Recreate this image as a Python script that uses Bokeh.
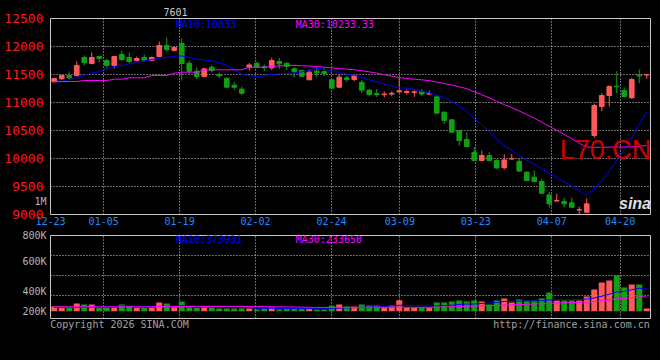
from bokeh.plotting import figure
from bokeh.models import Range1d, FixedTicker, Label, ColumnDataSource, LinearAxis
from bokeh.layouts import column
from bokeh.embed import file_html
from bokeh.resources import INLINE

# ---------------- data ----------------
dates = ["12-23", "12-24", "12-25", "12-26", "12-29", "12-30", "12-31",
         "01-05", "01-06", "01-07", "01-08", "01-09", "01-12", "01-13", "01-14", "01-15", "01-16",
         "01-19", "01-20", "01-21", "01-22", "01-23", "01-26", "01-27", "01-28", "01-29", "01-30",
         "02-02", "02-03", "02-04", "02-05", "02-06", "02-09", "02-10", "02-11", "02-12", "02-13",
         "02-24", "02-25", "02-26", "02-27",
         "03-02", "03-03", "03-04", "03-05", "03-06", "03-09", "03-10", "03-11", "03-12", "03-13",
         "03-16", "03-17", "03-18", "03-19", "03-20", "03-23", "03-24", "03-25", "03-26", "03-27",
         "03-30", "03-31", "04-01", "04-02", "04-03",
         "04-07", "04-08", "04-09", "04-10", "04-13", "04-14", "04-15", "04-16", "04-17",
         "04-20", "04-21", "04-22", "04-23", "04-24"]

opens = [11370, 11423, 11482, 11482, 11804, 11696, 11821, 11750, 11661, 11857,
         11804, 11750, 11804, 11750, 11821, 12018, 11929, 12054, 11702, 11559,
         11464, 11631, 11500, 11434, 11309, 11238, 11630, 11702, 11640, 11619,
         11732, 11700, 11601, 11570, 11405, 11560, 11550, 11405, 11273, 11440,
         11411, 11360, 11220, 11160, 11140, 11150, 11190, 11180, 11180, 11190,
         11150, 11100, 10827, 10690, 10500, 10340, 10110, 9964, 10054, 9964,
         9835, 9990, 9950, 9756, 9667, 9589, 9350, 9240, 9232, 9208,
         9080, 9040, 10411, 10929, 11125, 11290, 11214, 11084, 11490, 11490]
highs = [11440, 11490, 11554, 11732, 11839, 11893, 11839, 11786, 11821, 11929,
         11893, 11821, 11857, 11821, 12089, 12161, 12000, 12143, 11750, 11625,
         11620, 11661, 11536, 11440, 11362, 11286, 11702, 11720, 11680, 11798,
         11798, 11720, 11631, 11590, 11590, 11640, 11620, 11420, 11500, 11480,
         11500, 11400, 11240, 11240, 11200, 11200, 11440, 11230, 11220, 11240,
         11210, 11130, 10840, 10700, 10510, 10470, 10210, 10143, 10110, 9990,
         10071, 10080, 10010, 9770, 9786, 9640, 9400, 9375, 9300, 9300,
         9140, 9290, 10977, 11166, 11304, 11559, 11270, 11440, 11589, 11512]
lows = [11360, 11405, 11405, 11464, 11661, 11679, 11714, 11625, 11607, 11732,
        11696, 11732, 11732, 11732, 11804, 11911, 11911, 11393, 11512, 11420,
        11460, 11536, 11440, 11260, 11227, 11130, 11570, 11620, 11560, 11584,
        11601, 11584, 11446, 11460, 11400, 11450, 11470, 11250, 11256, 11370,
        11380, 11170, 11110, 11100, 11090, 11110, 11170, 11140, 11100, 11120,
        11140, 10800, 10620, 10460, 10230, 10210, 9960, 9953, 9950, 9820,
        9804, 9980, 9770, 9600, 9580, 9370, 9125, 9225, 9130, 9125,
        9010, 9040, 10369, 10845, 10929, 11166, 11090, 11066, 11345, 11423]
closes = [11430, 11482, 11441, 11661, 11714, 11804, 11786, 11661, 11821, 11768,
          11732, 11786, 11750, 11804, 12018, 11946, 11982, 11696, 11559, 11464,
          11601, 11571, 11477, 11273, 11273, 11166, 11670, 11631, 11620, 11750,
          11690, 11643, 11554, 11470, 11541, 11530, 11520, 11256, 11452, 11410,
          11482, 11220, 11143, 11140, 11150, 11165, 11210, 11195, 11190, 11150,
          11160, 10810, 10680, 10470, 10320, 10215, 9965, 10054, 9964, 9830,
          9975, 10000, 9775, 9607, 9590, 9380, 9190, 9250, 9190, 9130,
          9085, 9190, 10946, 11125, 11286, 11280, 11107, 11411, 11475, 11500]
volumes = [77000, 77000, 77000, 126000, 111000, 111000, 55000, 55000, 55000, 111000,
           88000, 55000, 55000, 55000, 143000, 126000, 66000, 160000, 66000, 55000,
           60000, 60000, 45000, 45000, 45000, 45000, 45000, 28000, 45000, 55000,
           28000, 45000, 45000, 45000, 45000, 28000, 28000, 88000, 111000, 77000,
           77000, 111000, 94000, 94000, 55000, 94000, 182000, 55000, 55000, 55000,
           55000, 143000, 143000, 160000, 177000, 160000, 177000, 160000, 111000, 177000,
           209000, 143000, 193000, 177000, 177000, 209000, 309000, 177000, 177000, 177000,
           177000, 243000, 359000, 474000, 508000, 591000, 392000, 442000, 442000, 45000]

# moving-average values before enough history exists in this window
ma10_head = [11340, 11375, 11410, 11446, 11488, 11527, 11548, 11607, 11643]
ma30_head = [11375, 11375, 11375, 11375, 11393, 11393, 11393, 11393, 11416, 11416,
             11441, 11441, 11441, 11482, 11482, 11482, 11523, 11541, 11541, 11541,
             11584, 11584, 11584, 11584, 11584, 11584, 11631, 11631, 11631]
vol_ma10_head = [60000, 60000, 62000, 64000, 66000, 68000, 70000, 72000, 74000]
vol_ma30_head = [72000, 72000, 72000, 72000, 72000, 72000, 72000, 72000, 72000, 72000,
                 72000, 72000, 72000, 72000, 78000, 78000, 78000, 78000, 78000, 78000,
                 78000, 78000, 78000, 78000, 78000, 78000, 78000, 78000, 78000]

date_tick_idx = [0, 7, 17, 27, 37, 46, 56, 66, 75]
price_ticks = [9000, 9500, 10000, 10500, 11000, 11500, 12000, 12500]
vol_tick_labels = ["200K", "400K", "600K", "800K"]

title_text = "7601"
price_ma_texts = ["MA10:10833", "MA30:10233.33"]
vol_ma_texts = ["MA10:373931", "MA30:233650"]
footer_texts = ["Copyright 2026 SINA.COM", "http://finance.sina.com.cn"]
stray_label = "1M"
watermark = "L70.CN"

# ---------------- styling ----------------
BG = "#000000"
UP = "#ff5a5a"
DOWN = "#12a012"
MA10_C = "#0000ff"
MA30_C = "#ff00ff"
GRID_C = "#d0d0d0"
FRAME_C = "#c8c8c8"
GREY_T = "#b4b4b4"
MONO = "DejaVu Sans Mono"


def moving_avg(vals, n, head):
    out = list(head)
    for i in range(len(head), len(vals)):
        out.append(sum(vals[i - n + 1:i + 1]) / n)
    return out


N = len(dates)
xs = list(range(N))
colors = [UP if c >= o else DOWN for o, c in zip(opens, closes)]
src = ColumnDataSource(dict(
    x=xs, o=opens, h=highs, l=lows, c=closes,
    top=[max(o, c) for o, c in zip(opens, closes)],
    bottom=[min(o, c) for o, c in zip(opens, closes)],
    color=colors, vol=volumes,
))
ma10 = moving_avg(closes, 10, ma10_head)
ma30 = moving_avg(closes, 30, ma30_head)
vma10 = moving_avg(volumes, 10, vol_ma10_head)
vma30 = moving_avg(volumes, 30, vol_ma30_head)

# date gridlines follow an (N-1)-interval scale, candles an N-slot scale
tick_x = [round(k * N / (N - 1) - 0.5, 4) for k in date_tick_idx]
tick_over = {tx: dates[k] for tx, k in zip(tick_x, date_tick_idx)}

xr = Range1d(-0.5, N - 0.5)


def style(p):
    p.background_fill_color = BG
    p.border_fill_color = BG
    p.outline_line_color = FRAME_C
    p.outline_line_width = 1
    for ax in p.axis:
        ax.axis_line_color = None
        ax.major_tick_line_color = None
        ax.minor_tick_line_color = None
        ax.major_tick_out = 0
        ax.major_tick_in = 0
        ax.minor_tick_out = 0
        ax.minor_tick_in = 0
        ax.major_label_text_font = MONO
        ax.major_label_text_font_size = "10px"
    for g in p.grid:
        g.grid_line_color = GRID_C
        g.grid_line_dash = "1 2"
        g.grid_line_width = 1


# ---------------- price panel ----------------
p1 = figure(frame_width=600, frame_height=196, x_range=xr, y_range=Range1d(9000, 12500),
            output_backend="svg", toolbar_location=None,
            min_border_left=50, min_border_right=10, min_border_top=18, min_border_bottom=14)
# outer axis carrying the price labels (drawn back over the inner one)
price_axis = LinearAxis(ticker=FixedTicker(ticks=price_ticks))
p1.add_layout(price_axis, "left")
style(p1)

p1.title.text = title_text
p1.title.align = "left"
p1.title.offset = 113
p1.title.standoff = 6
p1.title.text_color = "#cccccc"
p1.title.text_font = MONO
p1.title.text_font_size = "10px"
p1.title.text_font_style = "normal"

p1.segment(x0="x", y0="h", x1="x", y1="l", color="color", line_width=1, source=src)
p1.vbar(x="x", width=0.62, top="top", bottom="bottom", fill_color="color",
        line_color="color", line_width=1, source=src)
p1.line(xs, ma10, line_color=MA10_C, line_width=1)
p1.line(xs, ma30, line_color=MA30_C, line_width=1)

# inner left axis: the stray grey "1M" label that sits beside the price scale
stray_level = 9237
inner_axis = p1.yaxis[0]
inner_axis.ticker = FixedTicker(ticks=[stray_level])
inner_axis.major_label_overrides = {stray_level: stray_label}
inner_axis.major_label_text_color = GREY_T
inner_axis.major_label_standoff = 4

price_axis.major_label_text_color = "#ff1a1a"
price_axis.major_label_text_font_size = "13px"
price_axis.major_label_standoff = -12
p1.ygrid.ticker = FixedTicker(ticks=price_ticks[1:-1])

p1.xaxis.ticker = FixedTicker(ticks=tick_x)
p1.xaxis.major_label_overrides = tick_over
p1.xaxis.major_label_text_color = "#1e8cff"
p1.xaxis.major_label_standoff = 2
p1.xgrid.ticker = FixedTicker(ticks=tick_x[1:])

p1.add_layout(Label(x=16.2, y=12400, text=price_ma_texts[0], text_color=MA10_C,
                    text_font=MONO, text_font_size="10px", text_baseline="middle"))
p1.add_layout(Label(x=32.2, y=12400, text=price_ma_texts[1], text_color=MA30_C,
                    text_font=MONO, text_font_size="10px", text_baseline="middle"))
p1.add_layout(Label(x=67.4, y=10152, text=watermark, text_color="#d00000",
                    text_font="Liberation Sans", text_font_size="27px",
                    text_baseline="middle"))
p1.add_layout(Label(x=75.3, y=9196, text="sina", text_color="#e0e0e0",
                    text_font="Liberation Sans", text_font_size="16px",
                    text_font_style="bold italic", text_baseline="middle"))

# ---------------- volume panel ----------------
p2 = figure(frame_width=600, frame_height=83, x_range=xr, y_range=Range1d(-121000, 1253000),
            output_backend="svg", toolbar_location=None,
            min_border_left=50, min_border_right=10, min_border_top=7, min_border_bottom=16)
style(p2)
p2.vbar(x="x", width=0.8, top="vol", bottom=0, fill_color="color", line_color=None, source=src)
p2.line(xs, vma10, line_color=MA10_C, line_width=1)
p2.line(xs, vma30, line_color=MA30_C, line_width=1)

vol_label_pos = [0, 331000, 827000, 1250000]
p2.yaxis.ticker = FixedTicker(ticks=vol_label_pos)
p2.yaxis.major_label_overrides = {v: t for v, t in zip(vol_label_pos, vol_tick_labels)}
p2.yaxis.major_label_text_color = GREY_T
p2.yaxis.major_label_standoff = 4
p2.ygrid.ticker = FixedTicker(ticks=[255000, 586000, 917000])

# footer texts carried by the bottom axis, centred under their spans
footer_pos = [8.7, 68.97]
p2.xaxis.ticker = FixedTicker(ticks=footer_pos)
p2.xaxis.major_label_overrides = {v: t for v, t in zip(footer_pos, footer_texts)}
p2.xaxis.major_label_text_color = "#a0a0a0"
p2.xaxis.major_label_standoff = 0
p2.xgrid.ticker = FixedTicker(ticks=tick_x[1:])

p2.add_layout(Label(x=16.2, y=1195000, text=vol_ma_texts[0], text_color=MA10_C,
                    text_font=MONO, text_font_size="10px", text_baseline="middle"))
p2.add_layout(Label(x=32.2, y=1195000, text=vol_ma_texts[1], text_color=MA30_C,
                    text_font=MONO, text_font_size="10px", text_baseline="middle"))

layout = column(p1, p2, spacing=0, styles={"background-color": BG})

html = file_html(layout, INLINE)
html = html.replace("</head>", "<style>html,body{background:#000000;}</style></head>", 1)
open("out.html", "w").write(html)
